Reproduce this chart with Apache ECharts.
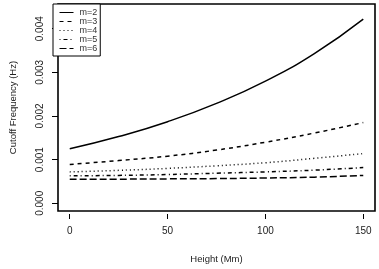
<!DOCTYPE html>
<html><head><meta charset="utf-8">
<script src="https://cdn.jsdelivr.net/npm/echarts@6/dist/echarts.min.js"></script>
<style>html,body{margin:0;padding:0;background:#fff}#c{width:379px;height:269px}</style>
</head><body><div id="c"></div>
<script>
const heights = [0, 25, 50, 75, 100, 125, 150];
const m2 = [0.00125, 0.00153, 0.00187, 0.00229, 0.00280, 0.00343, 0.00422];
const m3 = [0.00089, 0.00098, 0.00108, 0.00122, 0.00140, 0.00161, 0.00185];
const m4 = [0.00072, 0.000755, 0.00080, 0.00086, 0.00093, 0.00103, 0.00114];
const m5 = [0.00063, 0.00064, 0.00066, 0.00069, 0.00072, 0.00076, 0.00082];
const m6 = [0.00055, 0.000553, 0.00056, 0.000567, 0.00058, 0.00060, 0.00064];
const names = ['m=2', 'm=3', 'm=4', 'm=5', 'm=6'];
const xTicks = [0, 50, 100, 150];
const yTicks = [0, 0.001, 0.002, 0.003, 0.004];

const seriesData = [m2, m3, m4, m5, m6];
const dashes = ['solid', [4, 4], [1, 3], [1, 3, 4, 3], [7, 3]];
const FONT = 'Liberation Sans, Arial, sans-serif';

const chart = echarts.init(document.getElementById('c'), null, {renderer: 'canvas'});
chart.setOption({
  animation: false,
  backgroundColor: '#fff',
  grid: {left: 53, right: 4, top: 4, bottom: 55, show: true, borderColor: '#000', borderWidth: 1.6, backgroundColor: 'transparent'},
  xAxis: {
    type: 'value', min: -6, max: 156, offset: 3,
    name: 'Height (Mm)', nameLocation: 'middle', nameGap: 40,
    nameTextStyle: {fontFamily: FONT, fontSize: 9.5, color: '#222'},
    axisLine: {show: false, onZero: false},
    axisTick: {show: true, length: 5, lineStyle: {color: '#000', width: 1}, customValues: xTicks},
    axisLabel: {fontFamily: FONT, fontSize: 10, color: '#222', margin: 12, customValues: xTicks},
    splitLine: {show: false}
  },
  yAxis: {
    type: 'value', min: -0.000176, max: 0.004566,
    name: 'Cutoff Frequency (Hz)', nameLocation: 'middle', nameGap: 40,
    nameTextStyle: {fontFamily: FONT, fontSize: 9.5, color: '#222'},
    axisLine: {show: false, onZero: false},
    axisTick: {show: true, length: 6, lineStyle: {color: '#000', width: 1}, customValues: yTicks},
    axisLabel: {fontFamily: FONT, fontSize: 10, color: '#222', margin: 13, rotate: 90,
      customValues: yTicks, formatter: v => v.toFixed(3)},
    splitLine: {show: false}
  },
  legend: {
    left: 53, top: 4, orient: 'vertical',
    padding: [4, 3, 3, 6], itemGap: 0, itemWidth: 14, itemHeight: 8.5,
    borderColor: '#000', borderWidth: 1, backgroundColor: '#fff',
    itemStyle: {opacity: 0},
    lineStyle: {width: 1},
    textStyle: {fontFamily: FONT, fontSize: 9, color: '#333', lineHeight: 8.5, padding: [0, 0, 0, 1]},
    data: names
  },
  series: names.map((n, i) => ({
    name: n, type: 'line', smooth: true, symbol: 'none', showSymbol: false,
    data: heights.map((h, j) => [h, seriesData[i][j]]),
    lineStyle: {color: '#000', width: 1.5, type: dashes[i]},
    itemStyle: {color: '#000'}
  }))
});
</script></body></html>
